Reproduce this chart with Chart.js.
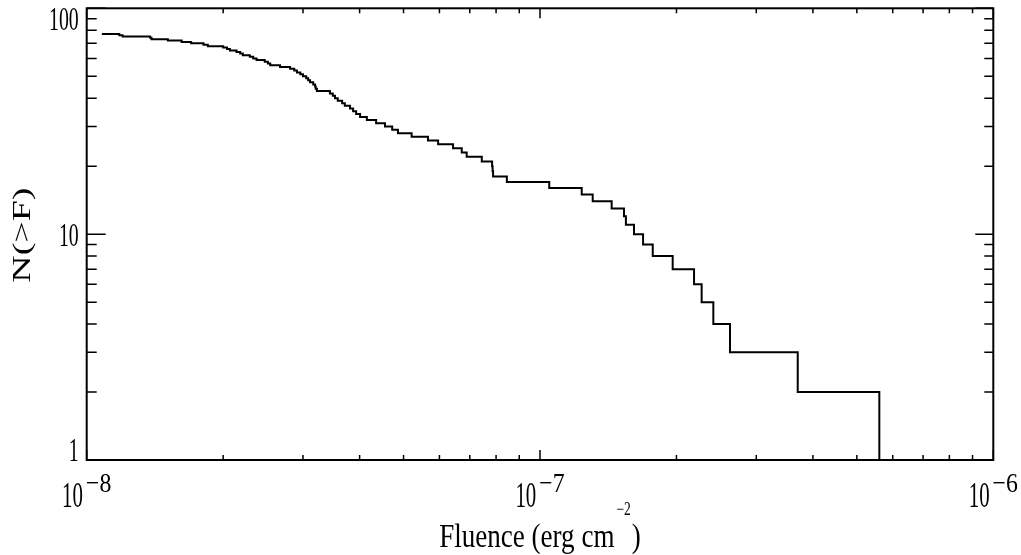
<!DOCTYPE html>
<html>
<head>
<meta charset="utf-8">
<script src="https://cdn.jsdelivr.net/npm/chart.js@4.4.1/dist/chart.umd.min.js"></script>
<style>
  html, body { margin: 0; padding: 0; background: #ffffff; }
  #wrap { width: 1021px; height: 555px; position: relative; background: #ffffff; }
</style>
</head>
<body>
<div id="wrap"><canvas id="c" width="1021" height="555"></canvas></div>
<script>
// Fluence (erg cm^-2) at which the cumulative count drops to the value in `counts`
const fluence = [
  1.08e-8, 1.18e-8, 1.20e-8, 1.38e-8, 1.39e-8, 1.51e-8, 1.62e-8, 1.70e-8, 1.81e-8, 1.85e-8,
  2.00e-8, 2.04e-8, 2.07e-8, 2.14e-8, 2.18e-8, 2.21e-8, 2.29e-8, 2.33e-8, 2.37e-8, 2.47e-8,
  2.51e-8, 2.54e-8, 2.67e-8, 2.81e-8, 2.87e-8, 2.91e-8, 2.96e-8, 3.00e-8, 3.05e-8, 3.08e-8,
  3.11e-8, 3.16e-8, 3.19e-8, 3.20e-8, 3.22e-8, 3.44e-8, 3.49e-8, 3.53e-8, 3.58e-8, 3.66e-8,
  3.71e-8, 3.81e-8, 3.87e-8, 3.93e-8, 4.01e-8, 4.15e-8, 4.35e-8, 4.55e-8, 4.72e-8, 4.86e-8,
  5.21e-8, 5.66e-8, 5.96e-8, 6.43e-8, 6.72e-8, 6.89e-8, 7.44e-8, 7.84e-8, 7.86e-8, 7.88e-8,
  8.45e-8, 1.048e-7, 1.236e-7, 1.307e-7, 1.439e-7, 1.532e-7, 1.547e-7, 1.612e-7, 1.688e-7, 1.773e-7,
  1.962e-7, 2.187e-7, 2.273e-7, 2.412e-7, 2.625e-7, 3.703e-7, 5.605e-7
];
// N(>F)
const counts = [
  77, 76, 75, 74, 73, 72, 71, 70, 69, 68,
  67, 66, 65, 64, 63, 62, 61, 60, 59, 58,
  57, 56, 55, 54, 53, 52, 51, 50, 49, 48,
  47, 46, 45, 44, 43, 42, 41, 40, 39, 38,
  37, 36, 35, 34, 33, 32, 31, 30, 29, 28,
  27, 26, 25, 24, 23, 22, 21, 20, 19, 18,
  17, 16, 15, 14, 13, 12, 11, 10, 9, 8,
  7, 6, 5, 4, 3, 2, 1
];
// Axis ticks and labels
const xMajorTicks = [1e-8, 1e-7, 1e-6];
const xTickBase = ['10', '10', '10'];
const xTickExponent = ['\u22128', '\u22127', '\u22126'];
const yMajorTicks = [1, 10, 100];
const yTickLabels = ['1', '10', '100'];
const minorMultipliers = [2, 3, 4, 5, 6, 7, 8, 9];
const xTitleMain = 'Fluence (erg cm';
const xTitleSup = '\u22122';
const xTitleEnd = ')';
const yTitle = 'N(>F)';

const FONT = '"Liberation Serif", "DejaVu Serif", serif';

function txt(ctx, str, x, y, size, sx, align, baseline) {
  ctx.save();
  ctx.font = size + 'px ' + FONT;
  ctx.textAlign = align || 'left';
  ctx.textBaseline = baseline || 'alphabetic';
  ctx.translate(x, y);
  ctx.scale(sx, 1);
  ctx.fillText(str, 0, 0);
  ctx.restore();
}
function tw(ctx, str, size, sx) {
  ctx.save();
  ctx.font = size + 'px ' + FONT;
  const w = ctx.measureText(str).width * sx;
  ctx.restore();
  return w;
}

const framePlugin = {
  id: 'frame',
  afterDatasetsDraw(chart) {
    const { ctx, chartArea: a, scales } = chart;
    const xs = scales.x, ys = scales.y;
    ctx.save();
    ctx.strokeStyle = '#000';
    ctx.fillStyle = '#000';
    // frame
    ctx.lineWidth = 2;
    ctx.strokeRect(a.left, a.top, a.right - a.left, a.bottom - a.top);
    // x ticks
    ctx.lineWidth = 1.5;
    ctx.beginPath();
    for (let i = 0; i < xMajorTicks.length; i++) {
      const d = xMajorTicks[i];
      const px = xs.getPixelForValue(d);
      ctx.moveTo(px, a.bottom); ctx.lineTo(px, a.bottom - 10);
      ctx.moveTo(px, a.top); ctx.lineTo(px, a.top + 10);
      if (i < xMajorTicks.length - 1) {
        for (const m of minorMultipliers) {
          const p = xs.getPixelForValue(m * d);
          ctx.moveTo(p, a.bottom); ctx.lineTo(p, a.bottom - 5);
          ctx.moveTo(p, a.top); ctx.lineTo(p, a.top + 5);
        }
      }
    }
    // y ticks
    for (let i = 0; i < yMajorTicks.length; i++) {
      const d = yMajorTicks[i];
      const py = ys.getPixelForValue(d);
      ctx.moveTo(a.left, py); ctx.lineTo(a.left + 19, py);
      ctx.moveTo(a.right, py); ctx.lineTo(a.right - 18, py);
      if (i < yMajorTicks.length - 1) {
        for (const m of minorMultipliers) {
          const p = ys.getPixelForValue(m * d);
          ctx.moveTo(a.left, p); ctx.lineTo(a.left + 10, p);
          ctx.moveTo(a.right, p); ctx.lineTo(a.right - 9, p);
        }
      }
    }
    ctx.stroke();

    // x tick labels: 10 with superscript exponent
    for (let i = 0; i < xMajorTicks.length; i++) {
      const px = xs.getPixelForValue(xMajorTicks[i]);
      const wb = tw(ctx, xTickBase[i], 36, 0.58);
      const ws = tw(ctx, xTickExponent[i], 28, 0.85);
      const start = px - (wb + 3 + ws) / 2;
      txt(ctx, xTickBase[i], start, a.bottom + 47, 36, 0.58, 'left');
      txt(ctx, xTickExponent[i], start + wb + 3, a.bottom + 32, 28, 0.85, 'left');
    }
    // y tick labels
    for (let i = 0; i < yMajorTicks.length; i++) {
      const py = ys.getPixelForValue(yMajorTicks[i]);
      let base;
      if (i === 0) base = a.bottom + 1;
      else if (i === yMajorTicks.length - 1) base = a.top + 22;
      else base = py + 12;
      txt(ctx, yTickLabels[i], a.left - 8, base, 33, 0.6, 'right');
    }
    // x title
    const w1 = tw(ctx, xTitleMain, 33, 0.82);
    const w2 = tw(ctx, xTitleSup, 18, 0.75);
    const w3 = tw(ctx, xTitleEnd, 33, 0.82);
    const total = w1 + 2 + w2 + 1 + w3;
    const cx = (a.left + a.right) / 2;
    let sx0 = cx - total / 2;
    txt(ctx, xTitleMain, sx0, a.bottom + 87, 33, 0.82, 'left');
    txt(ctx, xTitleSup, sx0 + w1 + 2, a.bottom + 55, 18, 0.75, 'left');
    txt(ctx, xTitleEnd, sx0 + w1 + 2 + w2 + 1, a.bottom + 87, 33, 0.82, 'left');
    // y title (rotated)
    ctx.save();
    ctx.translate(30, (a.top + a.bottom) / 2 + 1);
    ctx.rotate(-Math.PI / 2);
    ctx.font = '26px ' + FONT;
    const wy = ctx.measureText(yTitle).width;
    ctx.scale(95 / wy, 1);
    ctx.textAlign = 'center';
    ctx.textBaseline = 'alphabetic';
    ctx.fillText(yTitle, 0, 0);
    ctx.restore();

    ctx.restore();
  }
};

const points = fluence.map((f, i) => ({ x: f, y: counts[i] }));

new Chart(document.getElementById('c'), {
  type: 'line',
  data: {
    datasets: [{
      data: points,
      stepped: true,
      borderColor: '#000',
      borderWidth: 2,
      pointRadius: 0,
      fill: false,
      tension: 0
    }]
  },
  options: {
    responsive: false,
    devicePixelRatio: 1,
    animation: false,
    layout: { padding: { left: 86.7, right: 27.7, top: 8.3, bottom: 95 } },
    plugins: { legend: { display: false }, tooltip: { enabled: false } },
    scales: {
      x: { type: 'logarithmic', min: 1e-8, max: 1e-6, display: false },
      y: { type: 'logarithmic', min: 1, max: 100, display: false }
    }
  },
  plugins: [framePlugin]
});
</script>
</body>
</html>
